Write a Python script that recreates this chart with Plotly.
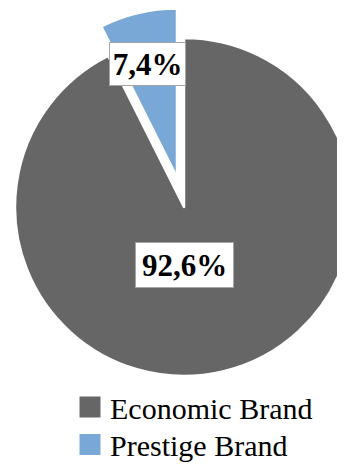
import math
import plotly.graph_objects as go

# ---- data ----
labels = ["Economic Brand", "Prestige Brand"]
values = [92.6, 7.4]
colors = ["#666666", "#79a7d6"]
pull_fraction = [0.0, 0.18]

# ---- layout geometry (pixels in the browser window) ----
OFF = 8            # page body margin
W, H = 368, 470
R = 169            # pie radius
CX, CY = 184, 207  # pie centre (window pixels)
SERIF = "Liberation Serif"


def fx(px):
    return (px - OFF) / W


def fy(py):
    return 1 - (py - OFF) / H


def domain_for(cx, cy, r):
    x0, x1 = max(0.0, fx(cx - r)), min(1.0, fx(cx + r))
    y0, y1 = max(0.0, fy(cy + r)), min(1.0, fy(cy - r))
    return dict(x=[x0, x1], y=[y0, y1])


total = sum(values)
fig = go.Figure()

start = 0.0
for i, (lab, val) in enumerate(zip(labels, values)):
    span = 360.0 * val / total
    mid = math.radians(start + span / 2.0)
    start += span
    d = pull_fraction[i] * R
    cx = CX + d * math.sin(mid)
    cy = CY - d * math.cos(mid)
    slice_colors = [colors[j] if j == i else "rgba(0,0,0,0)" for j in range(len(values))]
    line_w = [2.5 if j == i else 0 for j in range(len(values))]
    fig.add_trace(go.Pie(
        labels=labels, values=values, sort=False, direction="clockwise", rotation=0,
        marker=dict(colors=slice_colors, line=dict(color="white", width=line_w)),
        textinfo="none", hoverinfo="label+percent", showlegend=False,
        domain=domain_for(cx, cy, R),
    ))
    txt = f"{100.0 * val / total:.1f}".replace(".", ",") + "%"
    if i == 0:
        lx, ly = cx, cy + 0.345 * R
        bw, bh = 97, 44
    else:
        lx = cx + 0.69 * R * math.sin(mid) - 3
        ly = cy - 0.69 * R * math.cos(mid)
        bw, bh = 75, 42
    fig.add_annotation(
        x=fx(lx), y=fy(ly), xref="paper", yref="paper", showarrow=False,
        text=f"<b>{txt}</b>", font=dict(family=SERIF, size=31, color="black"),
        bgcolor="white", bordercolor="#a6a6a6", borderwidth=1, borderpad=0,
        width=bw, height=bh, xanchor="center", yanchor="middle",
    )

# legend carriers (one legend per entry for exact spacing)
legend_names = ["legend", "legend2"]
for lab, col, lg in zip(labels, colors, legend_names):
    fig.add_trace(go.Scatter(
        x=[None], y=[None], mode="markers", name=lab, legend=lg,
        marker=dict(symbol="square", size=16, color=col, line=dict(color=col, width=5)),
        showlegend=True, hoverinfo="skip",
    ))

leg_common = dict(font=dict(family=SERIF, size=30, color="black"),
                  bgcolor="rgba(0,0,0,0)", borderwidth=0, itemsizing="trace",
                  xanchor="left", yanchor="middle", x=fx(70))
fig.update_layout(
    width=W, height=H,
    margin=dict(l=0, r=0, t=0, b=0),
    paper_bgcolor="white", plot_bgcolor="white",
    xaxis=dict(visible=False), yaxis=dict(visible=False),
    legend=dict(**leg_common, y=fy(407)),
    legend2=dict(**leg_common, y=fy(444.5)),
)

fig.write_html("out.html")
